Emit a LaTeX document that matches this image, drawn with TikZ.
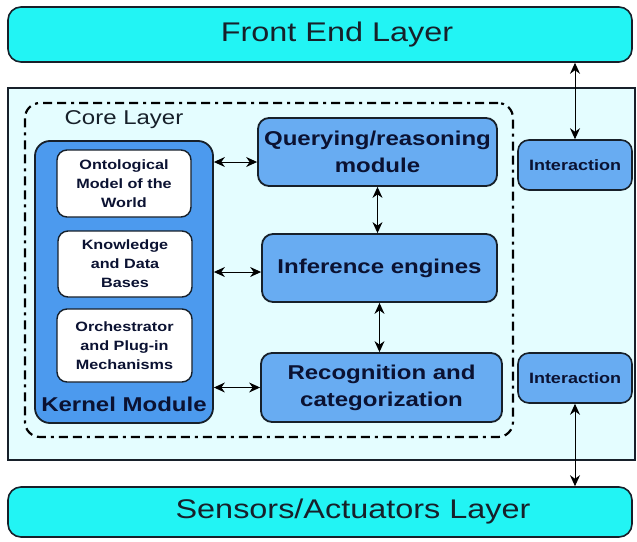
\documentclass[tikz,border=0pt]{standalone}
\usepackage{fontspec}
\setmainfont{Liberation Sans}[FakeStretch=1.2]
\usepackage{tikz}
\usetikzlibrary{arrows.meta, positioning}
\definecolor{layercyan}{HTML}{22F4F4}
\definecolor{midcyan}{HTML}{E4FDFF}
\definecolor{modblue}{HTML}{68ACF2}
\definecolor{kernblue}{HTML}{4C9AEE}
\definecolor{navytext}{HTML}{0B1232}
\definecolor{edgedark}{HTML}{17202A}

\begin{document}
\begin{tikzpicture}[
    x=1pt, y=-1pt,
    layer/.style={rectangle, rounded corners=13pt, draw=edgedark, fill=layercyan, line width=1.6pt, minimum width=624pt, font=\fontsize{27}{30}\selectfont, text=edgedark},
    zone/.style={rectangle, draw=edgedark, fill=midcyan, line width=1.6pt, minimum width=627pt, minimum height=372pt},
    core/.style={rectangle, rounded corners=15pt, draw=black, line width=2.2pt, dash pattern=on 9pt off 5pt on 9pt off 5pt on 3pt off 5pt, minimum width=488pt, minimum height=334pt},
    kernel/.style={rectangle, rounded corners=15pt, draw=edgedark, fill=kernblue, line width=1.8pt, minimum width=178pt, minimum height=282pt},
    inner/.style={rectangle, rounded corners=10pt, draw=edgedark, fill=white, line width=1.4pt, minimum width=134pt, align=center, text=navytext, font=\bfseries\fontsize{13.5}{19}\selectfont},
    module/.style={rectangle, rounded corners=11pt, draw=edgedark, fill=modblue, line width=1.8pt, minimum height=68pt, align=center, text=navytext, font=\bfseries\fontsize{20}{27}\selectfont},
    iface/.style={rectangle, rounded corners=11pt, draw=edgedark, fill=modblue, line width=1.6pt, minimum width=114pt, minimum height=50pt, text=navytext, font=\bfseries\fontsize{15}{18}\selectfont},
    arrow/.style={{Stealth[length=11pt,width=10pt]}-{Stealth[length=11pt,width=10pt]}, line width=1pt, black}
]
\useasboundingbox (0,0) rectangle (637,541);

\node[zone] (mid) at (321.5,274) {};
\node[layer, minimum height=55pt] (front) at (320,34.5) {\hspace*{34pt}Front End Layer};
\node[layer, minimum height=50pt] (sensors) at (320,512) {\hspace*{66pt}Sensors/Actuators Layer};

\node[core] (corelayer) at (269,270) {};
\node[font=\fontsize{20}{24}\selectfont, text=edgedark] (corelbl) at (124,120) {Core Layer};

\node[kernel] (kernel) at (124,282) {};
\node[text=navytext, font=\bfseries\fontsize{20}{24}\selectfont] (kernellbl) at (124,404) {Kernel Module};
\node[inner, minimum height=67pt] (onto) at (124,183.5) {Ontological\\Model of the\\World};
\node[inner, minimum height=66pt] (know) at (125,264) {Knowledge\\and Data\\Bases};
\node[inner, minimum height=73pt, minimum width=135pt] (orch) at (124.5,345.5) {Orchestrator\\and Plug-in\\Mechanisms};

\node[module, minimum width=239pt] (query) at (377.5,152) {Querying/reasoning\\module};
\node[module, minimum width=235pt] (infer) at (379.5,268) {Inference engines};
\node[module, minimum width=241pt, minimum height=69pt] (recog) at (381.5,387.5) {Recognition and\\categorization};

\node[iface] (int1) at (575,165) {Interaction};
\node[iface] (int2) at (575,378) {Interaction};

\draw[arrow] ([yshift=-10pt]query.west -| kernel.east) -- ([yshift=-10pt]query.west);
\draw[arrow] ([yshift=-4pt]infer.west -| kernel.east) -- ([yshift=-4pt]infer.west);
\draw[arrow] (recog.west -| kernel.east) -- (recog.west);
\draw[arrow] (query.south) -- (query.south |- infer.north);
\draw[arrow] (infer.south) -- (infer.south |- recog.north);
\draw[arrow] (int1.north |- front.south) -- (int1.north);
\draw[arrow] (int2.south) -- (int2.south |- sensors.north);
\end{tikzpicture}
\end{document}
